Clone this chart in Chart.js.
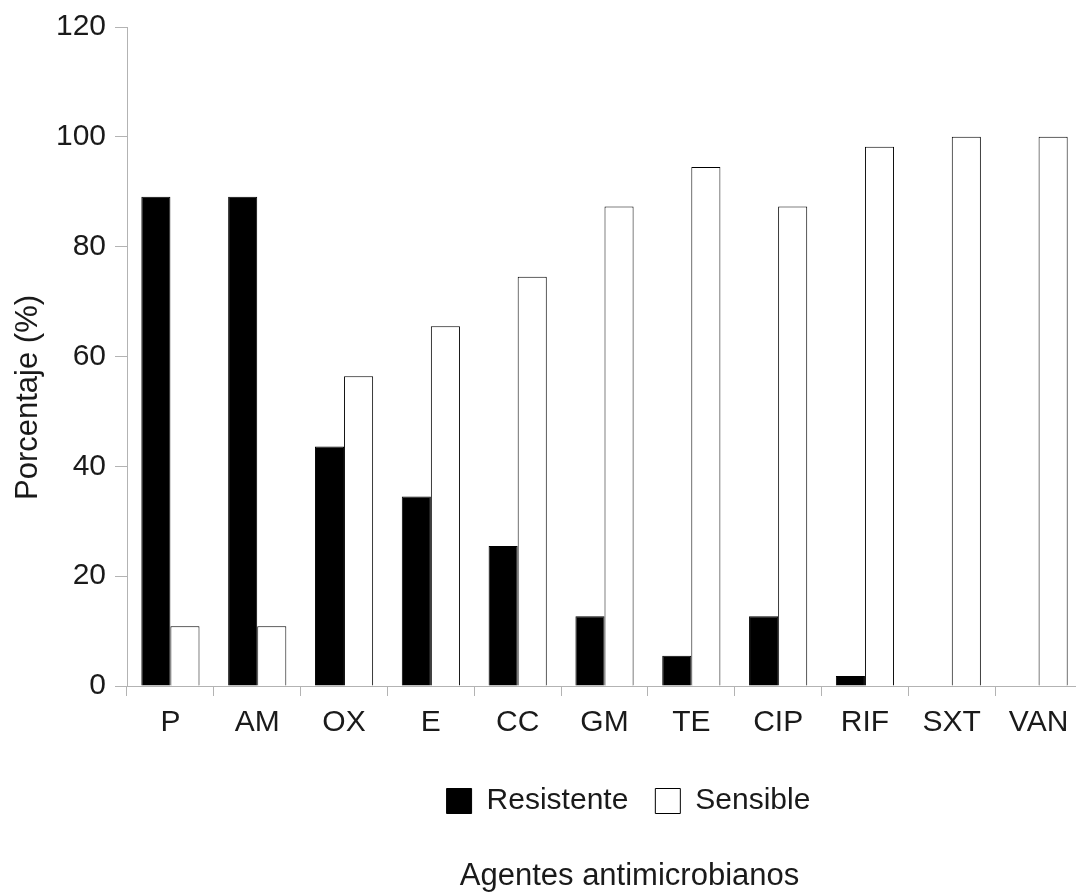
<!DOCTYPE html>
<html>
<head>
<meta charset="utf-8">
<title>Agentes antimicrobianos</title>
<script src="https://cdn.jsdelivr.net/npm/chart.js@4.4.1/dist/chart.umd.min.js"></script>
<style>
  html, body { margin: 0; padding: 0; background: #fff; overflow: hidden; }
  #wrap { position: relative; width: 1082px; height: 894px; }
</style>
</head>
<body>
<div id="wrap">
  <canvas id="resistance-chart"></canvas>
</div>
<script>
const agents = ["P", "AM", "OX", "E", "CC", "GM", "TE", "CIP", "RIF", "SXT", "VAN"];
const resistente = [89.1, 89.1, 43.6, 34.5, 25.5, 12.7, 5.5, 12.7, 1.8, 0, 0];
const sensible = [10.9, 10.9, 56.4, 65.5, 74.5, 87.3, 94.5, 87.3, 98.2, 100, 100];
const yTicks = [0, 20, 40, 60, 80, 100, 120];

const xTitle = "Agentes antimicrobianos";
const yTitle = "Porcentaje (%)";

const axisGrey = "#b3b3b3";
const textColor = "#1a1a1a";

Chart.defaults.font.family = '"Liberation Sans", Arial, sans-serif';
Chart.defaults.font.size = 30;
Chart.defaults.color = textColor;

// legend sits a bit right of the plot centre in the original, move it there
const legendShift = {
  id: "legendShift",
  afterLayout(chart) {
    const lg = chart.legend;
    const a = chart.chartArea;
    const dx = (a.left + a.right) / 2 + 24 - (lg.left + lg.right) / 2;
    const dy = a.bottom + 73 - lg.top;
    lg.left += dx; lg.right += dx;
    lg.top += dy; lg.bottom += dy;
  }
};

// axis titles, offset like in the source chart
const axisTitles = {
  id: "axisTitles",
  afterDraw(chart) {
    const { ctx, chartArea: a } = chart;
    ctx.save();
    ctx.font = '31px "Liberation Sans", Arial, sans-serif';
    ctx.fillStyle = textColor;
    ctx.textAlign = "center";
    ctx.textBaseline = "alphabetic";
    ctx.fillText(xTitle, (a.left + a.right) / 2 + 25, a.bottom + 199);
    ctx.translate(37, (a.top + a.bottom) / 2 + 41);
    ctx.rotate(-Math.PI / 2);
    ctx.fillText(yTitle, 0, 0);
    ctx.restore();
  }
};

const config = {
  type: "bar",
  data: {
    labels: agents,
    datasets: [
      {
        label: "Resistente",
        data: resistente,
        backgroundColor: "#000000",
        borderColor: "#000000",
        borderWidth: 1,
      },
      {
        label: "Sensible",
        data: sensible,
        backgroundColor: "#ffffff",
        borderColor: "#000000",
        borderWidth: 1,
      },
    ],
  },
  options: {
    responsive: true,
    maintainAspectRatio: false,
    animation: false,
    datasets: {
      bar: { categoryPercentage: 0.67, barPercentage: 1.0 }
    },
    layout: {
      padding: { top: 27, left: 56, right: 0, bottom: 77 }
    },
    plugins: {
      tooltip: { enabled: false },
      legend: {
        position: "bottom",
        labels: {
          boxWidth: 25,
          boxHeight: 25,
          padding: 27,
          color: textColor,
          font: { size: 30 },
        },
      },
    },
    scales: {
      x: {
        grid: {
          offset: true,
          drawOnChartArea: false,
          tickLength: 10,
          color: axisGrey,
        },
        border: { color: axisGrey },
        ticks: { padding: 9, color: textColor, maxRotation: 0 },
      },
      y: {
        min: 0,
        max: 120,
        afterBuildTicks: (scale) => {
          scale.ticks = yTicks.map((v) => ({ value: v }));
        },
        afterFit: (scale) => {
          scale.width = 71;
        },
        grid: {
          drawOnChartArea: false,
          tickLength: 12,
          color: axisGrey,
        },
        border: { color: axisGrey },
        ticks: { padding: 9, color: textColor },
      },
    },
  },
  plugins: [legendShift, axisTitles],
};

const ctx = document.getElementById("resistance-chart").getContext("2d");
window.resistanceChart = new Chart(ctx, config);
</script>
</body>
</html>
